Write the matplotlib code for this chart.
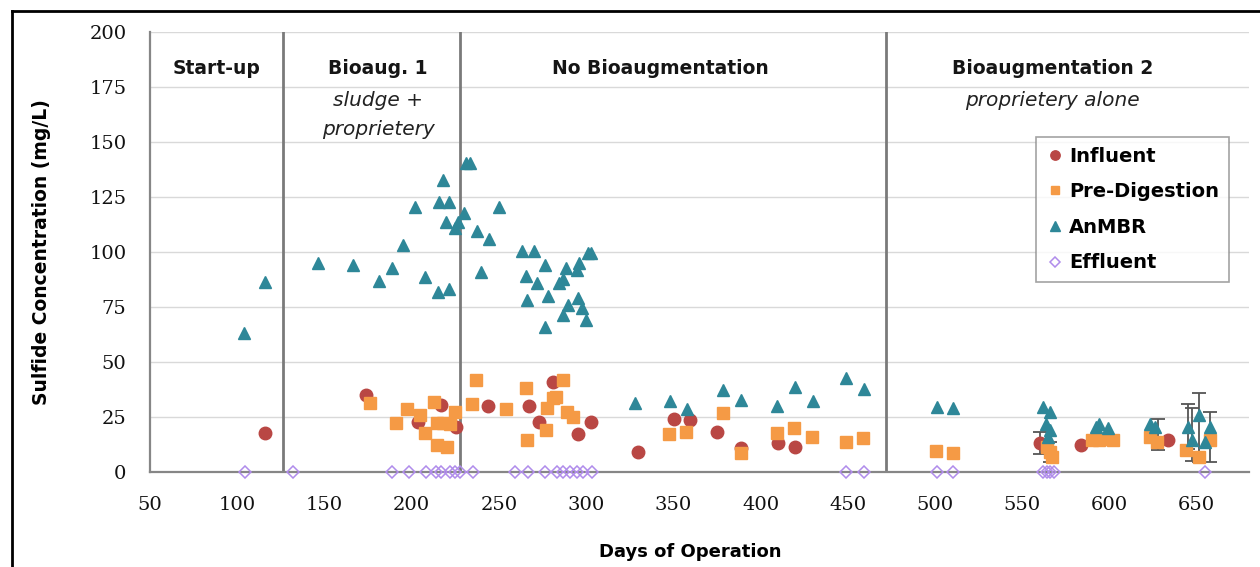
import matplotlib
matplotlib.use("Agg")
import matplotlib.pyplot as plt
from matplotlib.lines import Line2D

# ---------------- data ----------------
influent_day = [115.9, 173.8, 203.8, 217.1, 225.4, 243.9, 267.4, 273.0, 280.8, 295.5, 302.6,
                329.8, 350.3, 359.5, 374.8, 388.7, 409.9, 419.8,
                560.0, 583.9, 633.6]
influent_val = [17.7, 35.0, 22.9, 30.5, 20.6, 30.1, 30.1, 22.9, 41.0, 17.3, 22.9,
                9.0, 24.0, 23.6, 18.3, 10.8, 13.0, 11.2,
                13.0, 12.3, 14.5]

predig_day = [176.0, 191.0, 197.5, 204.7, 207.6, 212.8, 214.6, 218.0, 221.9, 224.8, 214.6, 220.4,
              234.8, 236.8, 254.3, 265.5, 266.2, 276.9, 277.3, 280.8, 282.7, 286.7, 289.0, 292.2,
              347.6, 357.2, 378.2, 388.7, 409.5, 419.2, 429.4, 448.7, 458.8,
              500.8, 510.3, 564.0, 565.8, 567.0, 590.0, 594.0, 598.0, 602.0,
              623.0, 627.0, 644.0, 651.3, 657.4]
predig_val = [31.5, 22.1, 28.5, 25.9, 17.6, 32.0, 22.4, 22.4, 22.0, 27.4, 12.3, 11.5,
              30.9, 41.8, 28.5, 38.0, 14.5, 19.1, 29.0, 33.5, 34.2, 42.0, 27.4, 24.8,
              17.3, 18.3, 27.0, 8.5, 17.6, 19.8, 16.0, 13.8, 15.3,
              9.7, 8.8, 11.5, 9.0, 7.0, 14.5, 14.5, 15.0, 14.5,
              16.0, 13.8, 10.0, 6.8, 14.5]

anmbr_day = [103.9, 115.9, 146.4, 166.3, 181.2, 188.5, 195.0, 202.0, 207.8, 215.2, 217.7, 215.8,
             221.5, 219.5, 221.5, 224.8, 226.7, 230.1, 231.0, 233.6, 237.2, 244.4, 239.9, 250.0,
             263.0, 270.2, 265.5, 265.9, 272.0, 276.5, 278.3, 276.7, 284.6, 288.4, 286.5, 286.8,
             289.7, 294.5, 295.4, 296.0, 297.4, 299.7, 301.2, 302.8,
             327.9, 348.0, 357.6, 378.5, 388.7, 409.5, 419.8, 429.8, 448.9, 459.2,
             501.0, 510.3, 561.9, 565.8, 563.9, 565.8, 564.8, 592.5, 594.0, 599.2,
             623.0, 626.0, 645.0, 647.5, 651.3, 654.6, 657.4]
anmbr_val = [63.0, 86.4, 95.1, 94.1, 86.8, 92.6, 103.0, 120.3, 88.5, 81.7, 132.7, 122.9,
             122.9, 113.8, 83.0, 110.8, 113.8, 117.6, 140.3, 140.3, 109.7, 105.9, 91.0, 120.3,
             100.6, 100.6, 89.0, 78.2, 86.0, 94.0, 80.1, 66.0, 85.8, 92.9, 87.7, 71.4,
             75.9, 91.8, 79.0, 94.8, 74.4, 69.0, 99.4, 99.4,
             31.5, 32.4, 28.6, 37.3, 32.7, 30.0, 38.5, 32.4, 42.6, 37.7,
             29.7, 29.0, 29.7, 27.4, 22.0, 19.0, 16.0, 20.6, 22.0, 19.9,
             22.0, 20.6, 20.6, 14.5, 26.0, 13.8, 20.6]

effluent_day = [104.4, 132.1, 188.5, 198.6, 208.5, 214.2, 217.1, 221.9, 224.8, 227.6, 235.2,
                259.1, 266.8, 276.4, 283.1, 286.9, 290.7, 294.5, 298.3, 303.1,
                448.9, 459.2, 501.0, 510.3, 562.0, 564.0, 566.0, 568.0, 655.0]
effluent_val = [0.0] * len(effluent_day)

# error bars (day, value, +/- error)
err_day = [560.0, 565.8, 628.0, 645.0, 651.3, 647.5, 657.4]
err_val = [13.0, 9.0, 17.0, 20.6, 20.3, 17.0, 16.0]
err_size = [5.0, 4.5, 7.0, 10.3, 15.6, 12.0, 11.4]

phase_lines = [126, 227.5, 472]
phase_names = ["Start-up", "Bioaug. 1", "No Bioaugmentation", "Bioaugmentation 2"]
phase_centers = [88.4, 180.7, 342.3, 567.5]
sub_texts = [("sludge +", 180.7, 169), ("proprietery", 180.7, 155.5), ("proprietery alone", 567.5, 169)]

xticks = list(range(50, 651, 50))
yticks = list(range(0, 201, 25))

c_inf = "#B94744"
c_pre = "#F59A45"
c_anm = "#2E8798"
c_eff = "#B08CEB"

# ---------------- figure ----------------
W, H = 1260, 567
fig = plt.figure(figsize=(W / 100, H / 100), dpi=100)
fig.patch.set_facecolor("white")
ax = fig.add_axes([150 / W, 1 - 472 / H, 1099 / W, 440 / H])

ax.set_xlim(50, 680)
ax.set_ylim(0, 200)
ax.set_xticks(xticks)
ax.set_yticks(yticks)
ax.set_xticklabels([str(t) for t in xticks], family="DejaVu Serif", fontsize=14, color="#111111")
ax.set_yticklabels([str(t) for t in yticks], family="DejaVu Serif", fontsize=14, color="#111111")
ax.tick_params(length=0, pad=17)
ax.yaxis.grid(True, color="#D9D9D9", lw=1.0)
ax.set_axisbelow(True)
for s in ["top", "right"]:
    ax.spines[s].set_visible(False)
for s in ["left", "bottom"]:
    ax.spines[s].set_color("#868686")
    ax.spines[s].set_linewidth(1.6)

for x in phase_lines:
    ax.axvline(x, color="#7A7A7A", lw=2, zorder=2)

for name, xc in zip(phase_names, phase_centers):
    ax.text(xc, 183.6, name, ha="center", va="center", fontsize=13.5, fontweight="bold",
            color="#151515", family="DejaVu Sans")
for t, xc, yc in sub_texts:
    ax.text(xc, yc, t, ha="center", va="center", fontsize=14.5, style="italic",
            color="#222222", family="DejaVu Sans")

ax.errorbar(err_day, err_val, yerr=err_size, fmt="none", ecolor="#555555", elinewidth=1.3,
            capsize=5, capthick=1.3, zorder=3)

ax.plot(influent_day, influent_val, "o", ms=9, color=c_inf, mec=c_inf, label="Influent", zorder=4)
ax.plot(predig_day, predig_val, "s", ms=8, color=c_pre, mec=c_pre, label="Pre-Digestion", zorder=5)
ax.plot(anmbr_day, anmbr_val, "^", ms=9, color=c_anm, mec=c_anm, label="AnMBR", zorder=6)
ax.plot(effluent_day, effluent_val, "D", ms=6.5, mfc="none", mec=c_eff, mew=1.1,
        label="Effluent", zorder=7, clip_on=False)

ax.set_xlabel("Days of Operation", fontsize=13, fontweight="bold", va="center")
ax.set_ylabel("Sulfide Concentration (mg/L)", fontsize=13.5, fontweight="bold", va="center")
ax.xaxis.set_label_coords((690 - 150) / 1099, -(552 - 472) / 440)
ax.yaxis.set_label_coords(-(150 - 42) / 1099, 0.5)

leg = ax.legend(loc="upper left", bbox_to_anchor=((1036 - 150) / 1099, (472 - 137) / 440),
                borderaxespad=0, frameon=True, fancybox=False, markerscale=0.75,
                handletextpad=0.2, handlelength=1.0, labelspacing=0.85,
                borderpad=0.5, prop={"weight": "bold", "size": 14})
leg.get_frame().set_edgecolor("#8C8C8C")
leg.get_frame().set_linewidth(1.2)

# outer black frame (top and left visible)
fig.add_artist(Line2D([12 / W, 12 / W], [0, 1 - 11 / H], color="black", lw=2, transform=fig.transFigure))
fig.add_artist(Line2D([12 / W, 1], [1 - 11 / H, 1 - 11 / H], color="black", lw=2, transform=fig.transFigure))

fig.savefig("out.png", dpi=100, facecolor="white")
